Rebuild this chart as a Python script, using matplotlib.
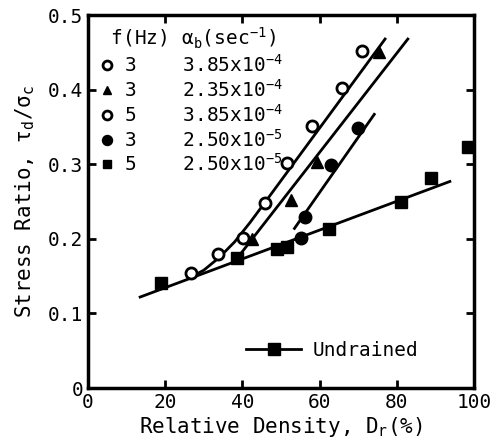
import numpy as np
import matplotlib.pyplot as plt
from matplotlib.lines import Line2D

# Measured points (relative density %, stress ratio)
open3_dr = [26.8, 33.7, 40.1, 45.8]
open3_sr = [0.154, 0.180, 0.201, 0.248]
tri3_dr = [42.6, 52.7, 59.4, 75.3]
tri3_sr = [0.200, 0.252, 0.303, 0.450]
open5_dr = [51.5, 58.1, 65.9, 71.1]
open5_sr = [0.302, 0.351, 0.402, 0.452]
fill3_dr = [55.3, 56.3, 63.0, 70.0]
fill3_sr = [0.201, 0.229, 0.299, 0.349]
sq5_dr = [19.0, 38.5, 49.1, 51.7, 62.5, 81.1, 88.9, 98.4]
sq5_sr = [0.141, 0.174, 0.186, 0.189, 0.213, 0.249, 0.281, 0.323]

# Fitted curves drawn in the figure
fit_open_dr = [26.0, 30.0, 34.0, 38.0, 42.0, 46.3, 77.0]
fit_open_sr = [0.147, 0.158, 0.175, 0.196, 0.222, 0.252, 0.468]
fit_tri_dr = [38.5, 82.9]
fit_tri_sr = [0.173, 0.468]
fit_fill_dr = [53.5, 74.2]
fit_fill_sr = [0.214, 0.367]
undrained_dr = [13.5, 93.8]
undrained_sr = [0.122, 0.277]

freqs = ["3", "3", "5", "3", "5"]
rates = ["3.85x10$^{-4}$", "2.35x10$^{-4}$", "3.85x10$^{-4}$",
         "2.50x10$^{-5}$", "2.50x10$^{-5}$"]

plt.rcParams.update({
    "font.family": "DejaVu Sans Mono",
    "font.size": 14,
    "mathtext.fontset": "custom",
    "mathtext.rm": "DejaVu Sans Mono",
    "mathtext.it": "DejaVu Sans Mono",
    "mathtext.bf": "DejaVu Sans Mono",
})

fig = plt.figure(figsize=(4.92, 4.46), dpi=100)
ax = fig.add_axes([0.179, 0.130, 0.784, 0.836])

lw = 2.0
ax.plot(fit_open_dr, fit_open_sr, c="black", lw=lw)
ax.plot(fit_tri_dr, fit_tri_sr, c="black", lw=lw)
ax.plot(fit_fill_dr, fit_fill_sr, c="black", lw=lw)
ax.plot(undrained_dr, undrained_sr, c="black", lw=lw)

ms = 8
h1, = ax.plot(open3_dr, open3_sr, "o", ms=ms, mfc="white", mec="black", mew=2)
h2, = ax.plot(tri3_dr, tri3_sr, "^", ms=ms, mfc="black", mec="black")
h3, = ax.plot(open5_dr, open5_sr, "o", ms=ms, mfc="white", mec="black", mew=2)
h4, = ax.plot(fill3_dr, fill3_sr, "o", ms=ms + 1, mfc="black", mec="black")
h5, = ax.plot(sq5_dr, sq5_sr, "s", ms=ms, mfc="black", mec="black", clip_on=False)

labels = [f"{f}    {r}" for f, r in zip(freqs, rates)]
leg = ax.legend([h1, h2, h3, h4, h5], labels, loc="upper left",
                bbox_to_anchor=(0.0, 1.0), frameon=False, handlelength=0.8,
                handletextpad=0.5, labelspacing=0.15, borderaxespad=0.15,
                title=" f(Hz) α$_b$(sec$^{-1}$)", title_fontsize=14,
                alignment="left", markerscale=0.8)
ax.add_artist(leg)

und = Line2D([], [], c="black", lw=lw, marker="s", ms=ms, mfc="black")
ax.legend([und], ["Undrained"], loc="center left", bbox_to_anchor=(0.365, 0.10),
          frameon=False, handlelength=2.8, handletextpad=0.6)

ax.set_xlim(0, 100)
ax.set_ylim(0, 0.5)
ax.set_xticks(np.arange(0, 101, 20))
ax.set_yticks(np.arange(0, 0.51, 0.1))
ax.set_yticklabels(["0", "0.1", "0.2", "0.3", "0.4", "0.5"])
ax.tick_params(direction="in", length=6, width=2, top=True, right=True, labelsize=14)
for s in ax.spines.values():
    s.set_linewidth(2.5)

ax.set_xlabel("Relative Density, D$_r$(%)", fontsize=15, labelpad=2)
ax.set_ylabel("Stress Ratio, τ$_d$/σ$_c$", fontsize=15, labelpad=8)

fig.savefig("out.png", dpi=100)
